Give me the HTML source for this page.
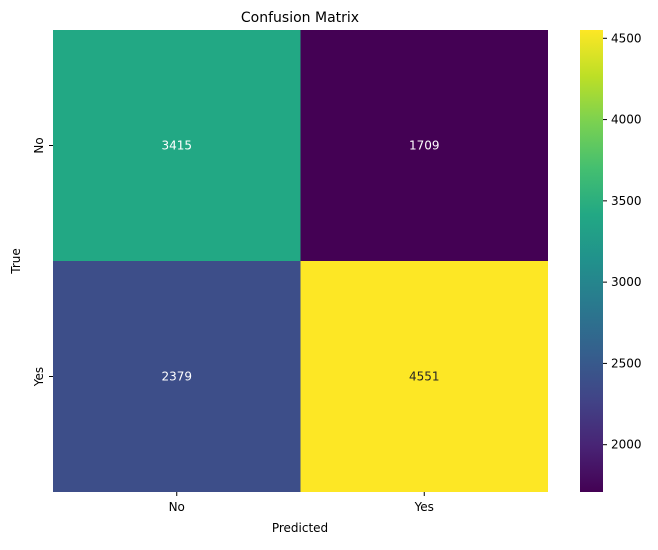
<!DOCTYPE html>
<html><head><meta charset="utf-8"><style>
body{margin:0;background:#fff;width:658px;height:545px;overflow:hidden;font-family:"Liberation Sans","DejaVu Sans",sans-serif}
svg text{font-family:"DejaVu Sans","Liberation Sans",sans-serif}
</style></head><body>
<svg id="chart" width="658" height="545">
<defs><linearGradient id="vir" x1="0" y1="1" x2="0" y2="0">
<stop offset="0" stop-color="#440154"/><stop offset="0.1" stop-color="#482475"/><stop offset="0.2" stop-color="#414487"/><stop offset="0.3" stop-color="#355f8d"/><stop offset="0.4" stop-color="#2a788e"/><stop offset="0.5" stop-color="#21918c"/><stop offset="0.6" stop-color="#22a884"/><stop offset="0.7" stop-color="#44bf70"/><stop offset="0.8" stop-color="#7ad151"/><stop offset="0.9" stop-color="#bddf26"/><stop offset="1" stop-color="#fde725"/>
</linearGradient></defs>
<text x="300" y="22" text-anchor="middle" font-size="14">Confusion Matrix</text>
<g id="cells"></g>
<rect x="580" y="30" width="23" height="462" fill="url(#vir)"/>
<g id="cbticks"></g>
<text x="300" y="532" text-anchor="middle" font-size="12">Predicted</text>
<text transform="translate(20,261) rotate(-90)" text-anchor="middle" font-size="12">True</text>
</svg>
<script>
const rowLabels=["No","Yes"];
const colLabels=["No","Yes"];
const values=[[3415,1709],[2379,4551]];
const cbTicks=[2000,2500,3000,3500,4000,4500];
const X0=53,X1=548,Y0=30,Y1=492;
const flat=values.flat(),vmin=Math.min(...flat),vmax=Math.max(...flat);
const stops=["#440154","#482475","#414487","#355f8d","#2a788e","#21918c","#22a884","#44bf70","#7ad151","#bddf26","#fde725"];
function hx(c){return [1,3,5].map(i=>parseInt(c.substr(i,2),16));}
function viridis(t){t=Math.max(0,Math.min(1,t));const p=t*10,i=Math.min(9,Math.floor(p)),f=p-i;const a=hx(stops[i]),b=hx(stops[i+1]);return "rgb("+a.map((v,k)=>Math.round(v+(b[k]-v)*f)).join(",")+")";}
const cw=(X1-X0)/colLabels.length,ch=(Y1-Y0)/rowLabels.length;
const NS="http://www.w3.org/2000/svg";
const g=document.getElementById("cells");
function mk(tag,attrs,parent){const e=document.createElementNS(NS,tag);for(const k in attrs)e.setAttribute(k,attrs[k]);parent.appendChild(e);return e;}
values.forEach((row,r)=>row.forEach((v,c)=>{
const t=(v-vmin)/(vmax-vmin);
const rect=mk("rect",{x:X0+c*cw,y:Y0+r*ch,width:cw,height:ch,fill:viridis(t)},g);


const tx=mk("text",{x:X0+(c+0.5)*cw,y:Y0+(r+0.5)*ch+4,"text-anchor":"middle","font-size":"12",fill:t>0.75?"#262626":"#fff"},g);
tx.textContent=v;


}));
colLabels.forEach((l,c)=>{const x=X0+(c+0.5)*cw;
const tk=mk("line",{x1:x,x2:x,y1:Y1,y2:Y1+4,stroke:"#000"},g);


const t=mk("text",{x:x,y:Y1+19,"text-anchor":"middle","font-size":"12"},g);t.textContent=l;

});
rowLabels.forEach((l,r)=>{const y=Y0+(r+0.5)*ch;
const tk=mk("line",{x1:X0-4,x2:X0,y1:y,y2:y,stroke:"#000"},g);


const t=mk("text",{transform:"translate("+(X0-10)+","+y+") rotate(-90)","text-anchor":"middle","font-size":"12"},g);t.textContent=l;

});
const cb=document.getElementById("cbticks");
cbTicks.forEach(v=>{const y=Y1-(v-vmin)/(vmax-vmin)*(Y1-Y0);
const tk=mk("line",{x1:603,x2:607,y1:y,y2:y,stroke:"#000"},cb);


const t=mk("text",{x:611,y:y+4,"font-size":"12"},cb);t.textContent=v;

});
</script>
</body></html>
